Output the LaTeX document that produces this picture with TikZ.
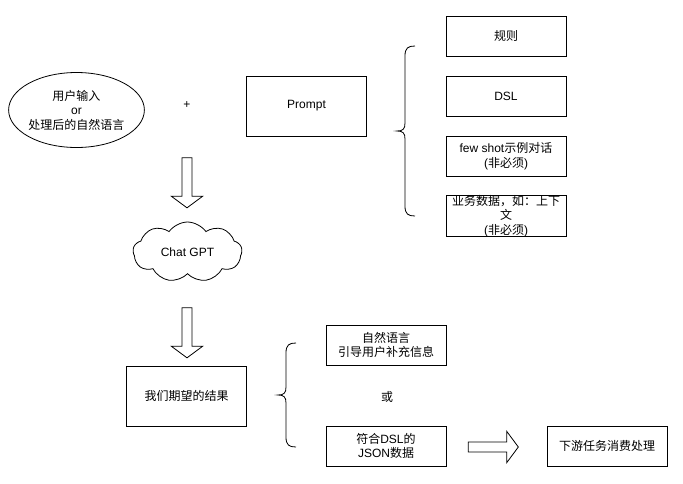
\documentclass[tikz,border=0pt]{standalone}
\usepackage{fontspec}
\setmainfont{Liberation Sans}
\newfontfamily\cjk{Noto Sans CJK SC}
\usepackage{tikz}
\usetikzlibrary{positioning,shapes.geometric,shapes.symbols,shapes.arrows}

% curly bracket opening to the right: spine x, top y, bottom y, tip x
\newcommand{\leftcurly}[4]{%
  \draw (#1+10,#2) .. controls (#1+3,#2) and (#1,#2+2) .. (#1,#2+10)
    -- (#1,{(#2+#3)/2-8}) .. controls (#1,{(#2+#3)/2-2}) and (#1-2,{(#2+#3)/2}) .. (#4,{(#2+#3)/2})
    .. controls (#1-2,{(#2+#3)/2}) and (#1,{(#2+#3)/2+2}) .. (#1,{(#2+#3)/2+8})
    -- (#1,#3-10) .. controls (#1,#3-2) and (#1+3,#3) .. (#1+10,#3);}

\begin{document}
\begin{tikzpicture}[x=0.75pt,y=-0.75pt,line width=0.6pt,
    font=\fontsize{9}{10.9}\selectfont,
    box/.style={draw,rectangle,align=center,inner sep=0pt,minimum width=90pt,minimum height=30pt},
    bigbox/.style={box,minimum height=45pt},
    hollow/.style={draw,single arrow,inner sep=3.4pt,minimum height=37.5pt,minimum width=22.5pt,
      single arrow tip angle=107,single arrow head extend=8pt}]
  \useasboundingbox (0,0) rectangle (683,483);

  % input
  \node[draw,ellipse,align=center,inner sep=0pt,minimum width=90.75pt,minimum height=56.25pt] (input) at (76.5,110)
    {{\cjk 用户输入}\\or\\{\cjk 处理后的自然语言}};
  \node (plus) at (187,105) {+};
  \node[bigbox] (prompt) at (306.5,106) {Prompt};

  % what goes into the prompt
  \node[box] (rules) at (506,36) {\cjk 规则};
  \node[box] (dsl) at (506,96) {DSL};
  \node[box] (fewshot) at (506,156) {few shot{\cjk 示例对话}\\({\cjk 非必须})};
  \node[box] (bizdata) at (506,216) {{\cjk 业务数据，如：上下}\\{\cjk 文}\\({\cjk 非必须})};
  \leftcurly{405}{46}{216}{397}

  % model
  \node[hollow,rotate=-90] (down1) at (187,181) {};
  \node[draw,cloud,cloud puffs=9,cloud puff arc=110,aspect=1.8,inner sep=0pt,
    minimum width=81.75pt,minimum height=45pt] (gpt) at (187.5,252) {Chat GPT};
  \node[hollow,rotate=-90] (down2) at (187,331) {};

  % result
  \node[bigbox] (result) at (186.5,396) {\cjk 我们期望的结果};
  \leftcurly{286}{343}{447}{278}
  \node[box] (ask) at (386,345) {{\cjk 自然语言}\\{\cjk 引导用户补充信息}};
  \node (or) at (387,397) {\cjk 或};
  \node[box] (json) at (386,446) {{\cjk 符合}DSL{\cjk 的}\\JSON{\cjk 数据}};
  \node[hollow] (right1) at (491.5,447) {};
  \node[box] (consume) at (607,446) {\cjk 下游任务消费处理};
\end{tikzpicture}
\end{document}
